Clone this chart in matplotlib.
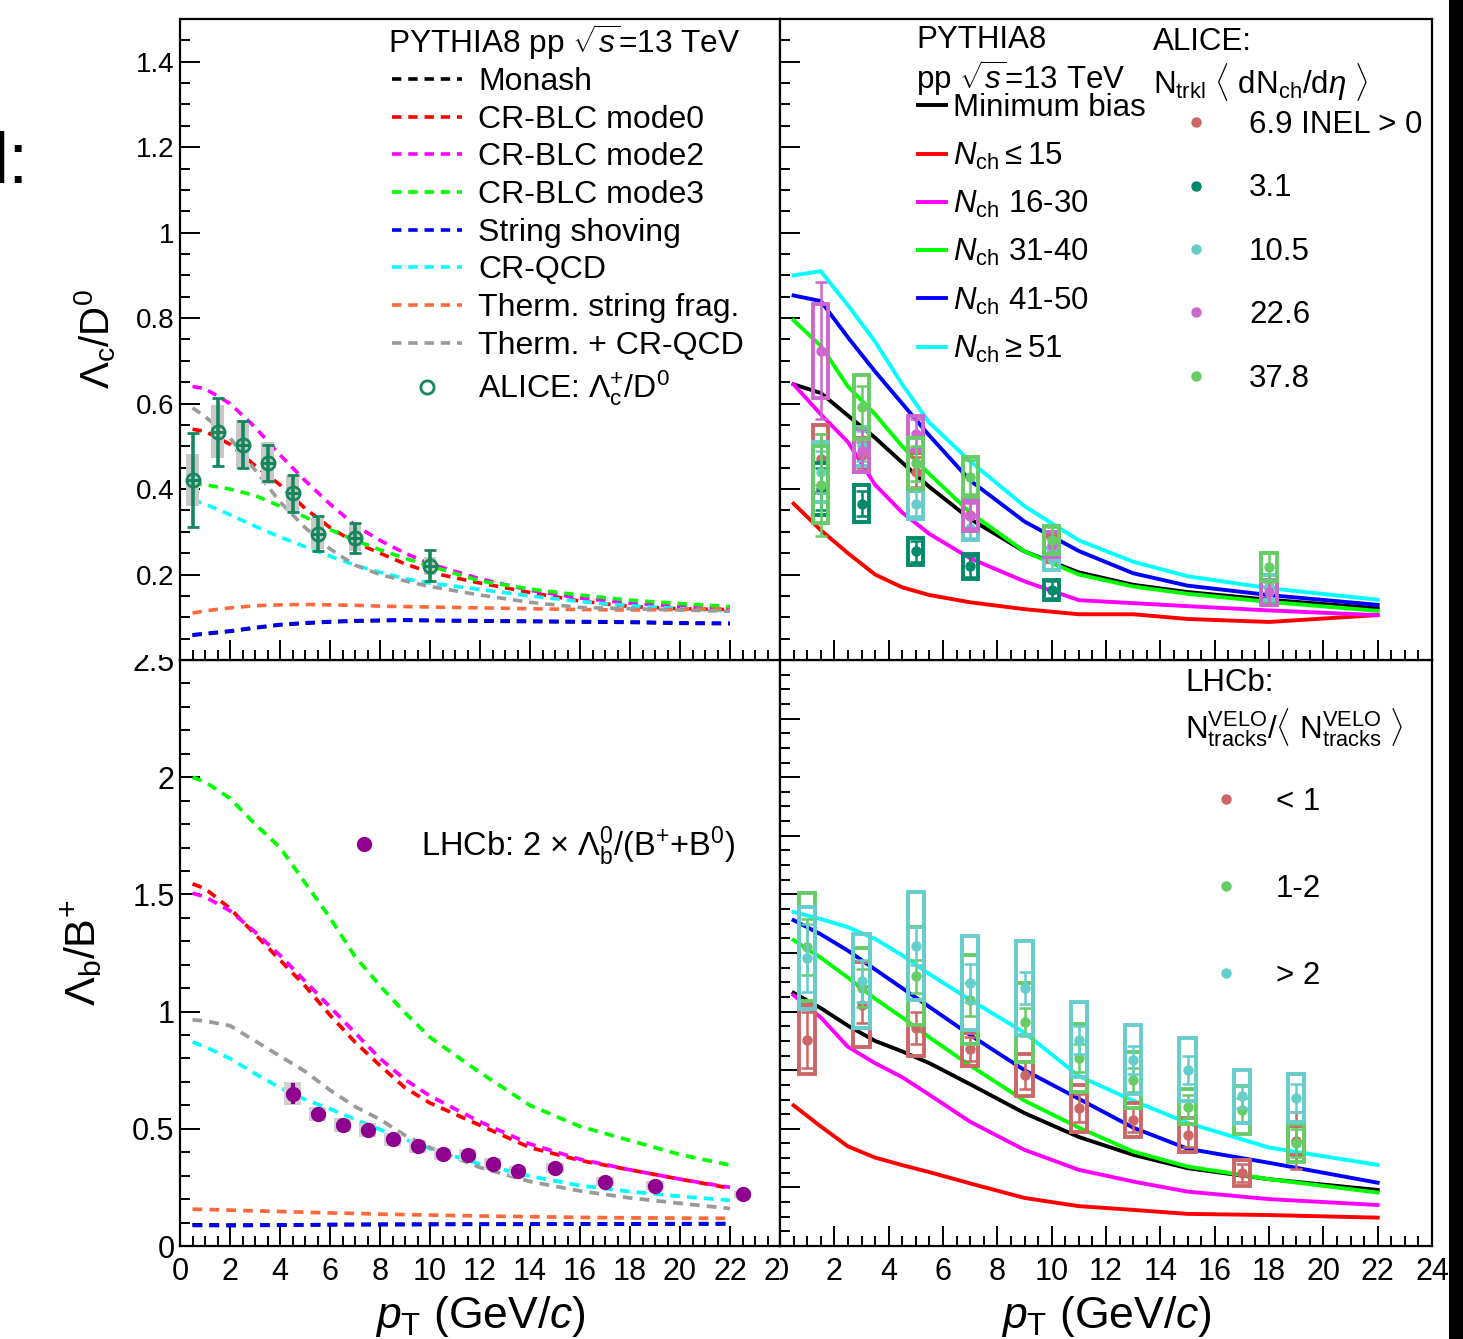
#!/usr/bin/env python3

"""
Lambda_c/D0 and Lambda_b/B+ versus pT: PYTHIA8 tunes compared with
ALICE and LHCb, inclusive (left column) and in multiplicity classes
(right column).
"""

import numpy as np
import matplotlib
matplotlib.use('Agg')
from matplotlib import pyplot as plt
from matplotlib.patches import Rectangle
from matplotlib.ticker import MultipleLocator, FuncFormatter, NullFormatter
from matplotlib.transforms import Bbox, TransformedBbox

plt.rcParams['font.family'] = ['Liberation Sans', 'DejaVu Sans']
plt.rcParams['mathtext.fontset'] = 'custom'
plt.rcParams['mathtext.rm'] = 'Liberation Sans'
plt.rcParams['mathtext.it'] = 'Liberation Sans:italic'
plt.rcParams['mathtext.bf'] = 'Liberation Sans:bold'
plt.rcParams['axes.linewidth'] = 1.6

#### PYTHIA8 TUNES, INCLUSIVE (dashed) ####
pt_model = [0.5, 1, 2, 3, 4, 5, 6, 7, 8, 9, 10, 12, 14, 16, 18, 20, 22]

lc_monash = [0.058, 0.061, 0.067, 0.075, 0.082, 0.086, 0.089, 0.091, 0.092, 0.093, 0.092, 0.091, 0.090, 0.089, 0.088, 0.086, 0.085]
lc_mode0 = [0.54, 0.535, 0.505, 0.455, 0.41, 0.355, 0.31, 0.275, 0.25, 0.225, 0.205, 0.18, 0.158, 0.138, 0.125, 0.12, 0.118]
lc_mode2 = [0.64, 0.635, 0.60, 0.545, 0.48, 0.42, 0.365, 0.315, 0.28, 0.25, 0.225, 0.19, 0.163, 0.145, 0.133, 0.125, 0.12]
lc_mode3 = [0.413, 0.41, 0.40, 0.385, 0.36, 0.335, 0.305, 0.28, 0.258, 0.238, 0.22, 0.185, 0.166, 0.152, 0.14, 0.132, 0.125]
lc_shoving = [0.059, 0.062, 0.068, 0.076, 0.083, 0.087, 0.09, 0.092, 0.093, 0.094, 0.093, 0.092, 0.091, 0.09, 0.089, 0.087, 0.086]
lc_crqcd = [0.375, 0.365, 0.34, 0.313, 0.288, 0.265, 0.243, 0.222, 0.205, 0.19, 0.18, 0.165, 0.15, 0.137, 0.127, 0.12, 0.115]
lc_therm = [0.110, 0.115, 0.122, 0.127, 0.129, 0.130, 0.129, 0.128, 0.126, 0.125, 0.124, 0.122, 0.12, 0.118, 0.117, 0.118, 0.12]
lc_therm_crqcd = [0.59, 0.57, 0.52, 0.445, 0.37, 0.31, 0.26, 0.222, 0.2, 0.185, 0.172, 0.152, 0.135, 0.123, 0.12, 0.117, 0.114]

lb_monash = [0.09, 0.09, 0.089, 0.089, 0.09, 0.09, 0.091, 0.092, 0.092, 0.092, 0.093, 0.093, 0.093, 0.094, 0.094, 0.094, 0.095]
lb_mode0 = [1.545, 1.525, 1.44, 1.33, 1.22, 1.11, 0.985, 0.87, 0.77, 0.675, 0.61, 0.515, 0.42, 0.365, 0.325, 0.285, 0.247]
lb_mode2 = [1.505, 1.49, 1.43, 1.34, 1.24, 1.13, 1.02, 0.91, 0.8, 0.71, 0.64, 0.53, 0.435, 0.37, 0.325, 0.285, 0.25]
lb_mode3 = [2.0, 1.98, 1.91, 1.80, 1.70, 1.55, 1.40, 1.235, 1.11, 0.995, 0.89, 0.74, 0.60, 0.51, 0.45, 0.39, 0.345]
lb_shoving = [0.088, 0.088, 0.087, 0.088, 0.089, 0.09, 0.091, 0.091, 0.092, 0.092, 0.092, 0.093, 0.093, 0.094, 0.094, 0.095, 0.095]
lb_crqcd = [0.87, 0.85, 0.80, 0.735, 0.675, 0.625, 0.585, 0.54, 0.497, 0.455, 0.415, 0.35, 0.298, 0.258, 0.232, 0.212, 0.195]
lb_therm = [0.157, 0.156, 0.153, 0.15, 0.147, 0.144, 0.141, 0.139, 0.136, 0.134, 0.132, 0.128, 0.125, 0.122, 0.12, 0.119, 0.118]
lb_therm_crqcd = [0.965, 0.96, 0.94, 0.875, 0.81, 0.745, 0.665, 0.595, 0.54, 0.472, 0.42, 0.335, 0.275, 0.235, 0.205, 0.182, 0.16]

tune_names = ['Monash', 'CR-BLC mode0', 'CR-BLC mode2', 'CR-BLC mode3', 'String shoving',
              'CR-QCD', 'Therm. string frag.', 'Therm. + CR-QCD']
tune_colors = ['black', '#ff0000', '#ff00ff', '#00ff00', '#0000ff', '#00ffff', '#ff6a3d', '#9a9a9a']

#### PYTHIA8 IN MULTIPLICITY CLASSES (solid) ####
pt_mult = [0.5, 1.5, 2.5, 3.5, 4.5, 5.5, 7, 9, 11, 13, 15, 18, 22]

lc_mb = [0.645, 0.625, 0.572, 0.52, 0.462, 0.405, 0.33, 0.254, 0.205, 0.176, 0.159, 0.141, 0.121]
lc_n15 = [0.366, 0.304, 0.25, 0.20, 0.17, 0.152, 0.135, 0.119, 0.107, 0.107, 0.096, 0.089, 0.105]
lc_n30 = [0.645, 0.575, 0.51, 0.41, 0.345, 0.295, 0.238, 0.184, 0.14, 0.133, 0.126, 0.116, 0.105]
lc_n40 = [0.795, 0.735, 0.64, 0.575, 0.5, 0.435, 0.345, 0.254, 0.2, 0.172, 0.155, 0.136, 0.115]
lc_n50 = [0.853, 0.84, 0.755, 0.675, 0.6, 0.525, 0.42, 0.324, 0.255, 0.203, 0.174, 0.152, 0.129]
lc_n51 = [0.90, 0.91, 0.83, 0.745, 0.645, 0.555, 0.465, 0.36, 0.28, 0.23, 0.196, 0.168, 0.141]

lb_mb = [1.08, 1.015, 0.94, 0.875, 0.83, 0.78, 0.69, 0.567, 0.465, 0.389, 0.332, 0.285, 0.239]
lb_n15 = [0.60, 0.51, 0.425, 0.377, 0.345, 0.315, 0.267, 0.205, 0.17, 0.154, 0.137, 0.132, 0.121]
lb_n30 = [1.07, 0.975, 0.85, 0.78, 0.72, 0.645, 0.53, 0.41, 0.325, 0.275, 0.232, 0.2, 0.175]
lb_n40 = [1.305, 1.23, 1.145, 1.055, 0.975, 0.89, 0.77, 0.62, 0.505, 0.403, 0.339, 0.285, 0.228]
lb_n50 = [1.39, 1.33, 1.26, 1.18, 1.10, 1.02, 0.90, 0.75, 0.628, 0.505, 0.415, 0.355, 0.27]
lb_n51 = [1.425, 1.395, 1.36, 1.31, 1.24, 1.16, 1.05, 0.91, 0.725, 0.62, 0.525, 0.42, 0.346]

mult_names = ['Minimum bias', r'$N_{\rm ch}\leq15$', r'$N_{\rm ch}$ 16-30', r'$N_{\rm ch}$ 31-40',
              r'$N_{\rm ch}$ 41-50', r'$N_{\rm ch}\geq51$']
mult_colors = ['black', '#ff0000', '#ff00ff', '#00ff00', '#0000ff', '#00ffff']

#### ALICE Lc/D0, INCLUSIVE ####
alice_pt = [0.5, 1.5, 2.5, 3.5, 4.5, 5.5, 7, 10]
alice_lc = [0.421, 0.534, 0.504, 0.460, 0.390, 0.296, 0.285, 0.221]
alice_stat = [0.11, 0.08, 0.055, 0.042, 0.044, 0.04, 0.035, 0.037]
alice_syst = [0.06, 0.062, 0.058, 0.049, 0.041, 0.037, 0.031, 0.021]

#### ALICE Lc/D0 IN <dNch/deta> CLASSES ####
alice_mult_pt = [1.5, 3, 5, 7, 10, 18]
alice_mult_labels = ['6.9 INEL > 0', '3.1', '10.5', '22.6', '37.8']
alice_mult_colors = ['#cd6666', '#00896a', '#66cdcd', '#cd66cd', '#66cd66']
alice_inel = [0.47, 0.48, 0.44, 0.34, 0.26, 0.17]
alice_inel_stat = [0.06, 0.03, 0.035, 0.03, 0.025, 0.03]
alice_inel_syst = [0.08, 0.04, 0.045, 0.035, 0.03, 0.03]
alice_m31 = [0.40, 0.366, 0.254, 0.219, 0.164]
alice_m31_stat = [0.05, 0.03, 0.025, 0.025, 0.02]
alice_m31_syst = [0.06, 0.043, 0.032, 0.03, 0.023]
alice_m105 = [0.44, 0.50, 0.366, 0.31, 0.236, 0.17]
alice_m105_stat = [0.05, 0.035, 0.03, 0.025, 0.022, 0.03]
alice_m105_syst = [0.07, 0.045, 0.035, 0.03, 0.025, 0.03]
alice_m226 = [0.724, 0.49, 0.53, 0.338, 0.27, 0.158]
alice_m226_stat = [0.16, 0.05, 0.035, 0.03, 0.03, 0.03]
alice_m226_syst = [0.11, 0.05, 0.04, 0.035, 0.03, 0.03]
alice_m378 = [0.41, 0.592, 0.46, 0.429, 0.281, 0.218]
alice_m378_stat = [0.12, 0.05, 0.04, 0.04, 0.03, 0.035]
alice_m378_syst = [0.09, 0.076, 0.06, 0.047, 0.033, 0.032]

#### LHCb Lb/B, INCLUSIVE ####
lhcb_pt = [4.5, 5.5, 6.5, 7.5, 8.5, 9.5, 10.5, 11.5, 12.5, 13.5, 15, 17, 19, 22.5]
lhcb_lb = [0.65, 0.565, 0.515, 0.495, 0.455, 0.425, 0.393, 0.388, 0.35, 0.32, 0.333, 0.275, 0.257, 0.22]
lhcb_stat = [0.045, 0.03, 0.03, 0.03, 0.028, 0.027, 0.025, 0.027, 0.027, 0.025, 0.027, 0.025, 0.025, 0.02]
lhcb_syst = [0.05, 0.03, 0.03, 0.03, 0.028, 0.027, 0.025, 0.025, 0.025, 0.022, 0.02, 0.02, 0.02, 0.015]

#### LHCb Lb/B IN VELO TRACK CLASSES ####
lhcb_mult_pt = [1, 3, 5, 7, 9, 11, 13, 15, 17, 19]
lhcb_mult_labels = ['< 1', '1-2', '> 2']
lhcb_mult_colors = ['#cd6666', '#66cd66', '#66cdcd']
lhcb_low = [0.88, 1.03, 0.93, 0.84, 0.731, 0.588, 0.538, 0.474, 0.311, 0.45]
lhcb_low_stat = [0.12, 0.08, 0.07, 0.05, 0.06, 0.06, 0.05, 0.05, 0.04, 0.12]
lhcb_low_syst = [0.147, 0.18, 0.12, 0.07, 0.09, 0.1, 0.073, 0.071, 0.057, 0.06]
lhcb_mid = [1.276, 1.10, 1.151, 1.051, 0.954, 0.802, 0.709, 0.595, 0.581, 0.439]
lhcb_mid_stat = [0.12, 0.08, 0.07, 0.07, 0.06, 0.06, 0.05, 0.05, 0.05, 0.06]
lhcb_mid_syst = [0.23, 0.17, 0.21, 0.19, 0.17, 0.145, 0.12, 0.075, 0.103, 0.08]
lhcb_high = [1.229, 1.13, 1.279, 1.123, 1.101, 0.88, 0.795, 0.752, 0.638, 0.631]
lhcb_high_stat = [0.145, 0.09, 0.08, 0.08, 0.07, 0.06, 0.06, 0.06, 0.05, 0.06]
lhcb_high_syst = [0.217, 0.2, 0.23, 0.2, 0.2, 0.16, 0.146, 0.135, 0.114, 0.103]

W, H = 1463, 1339
fig = plt.figure(figsize=(W / 100, H / 100), dpi=100)

# pads in pixel units: left column 180-780, right column 780-1432
ax_bl = fig.add_axes([180 / W, (H - 1246) / H, 600 / W, 586 / H])
ax_br = fig.add_axes([780 / W, (H - 1246) / H, 652 / W, 586 / H])
ax_tl = fig.add_axes([180 / W, (H - 660) / H, 600 / W, 641 / H])
ax_tr = fig.add_axes([780 / W, (H - 660) / H, 652 / W, 641 / H])
for ax in (ax_tl, ax_tr):
    ax.set_zorder(3)

fmt_nozero = FuncFormatter(lambda v, p: '' if abs(v) < 1e-9 else '%g' % v)
fmt_g = FuncFormatter(lambda v, p: '%g' % round(v, 6))
for ax in (ax_tl, ax_tr, ax_bl, ax_br):
    ax.set_xlim(0, 24)
    ax.xaxis.set_major_locator(MultipleLocator(2))
    ax.xaxis.set_minor_locator(MultipleLocator(0.5))
    ax.tick_params(which='both', direction='in', top=False, right=False, width=1.4)
    ax.tick_params(which='major', length=14.5)
    ax.tick_params(which='minor', length=7.5)
for ax in (ax_tl, ax_tr):
    ax.set_ylim(0, 1.5)
    ax.yaxis.set_major_locator(MultipleLocator(0.2))
    ax.yaxis.set_minor_locator(MultipleLocator(0.05))
    ax.xaxis.set_major_formatter(NullFormatter())
for ax in (ax_bl, ax_br):
    ax.set_ylim(0, 2.5)
    ax.xaxis.set_major_formatter(fmt_g)
ax_bl.yaxis.set_major_locator(MultipleLocator(0.5))
ax_bl.yaxis.set_minor_locator(MultipleLocator(0.1))
ax_bl.yaxis.set_major_formatter(fmt_g)
ax_br.yaxis.set_major_locator(MultipleLocator(0.25))
ax_br.yaxis.set_minor_locator(MultipleLocator(0.0625))
ax_tr.yaxis.set_major_formatter(NullFormatter())
ax_br.yaxis.set_major_formatter(NullFormatter())
ax_tl.yaxis.set_major_formatter(fmt_nozero)
ax_tl.tick_params(axis='y', labelsize=20, pad=4)
ax_bl.tick_params(axis='y', labelsize=22, pad=4)
for ax in (ax_bl, ax_br):
    ax.tick_params(axis='x', labelsize=22, pad=8)

dash = (2.6, 1.9)

#### TOP LEFT: Lc/D0 ####
lc_tunes = [lc_monash, lc_mode0, lc_mode2, lc_mode3, lc_shoving, lc_crqcd, lc_therm, lc_therm_crqcd]
tune_lines = []
for vals, c in zip(lc_tunes, tune_colors):
    ln, = ax_tl.plot(pt_model, vals, color=c, lw=2.6, dashes=dash, zorder=2)
    tune_lines.append(ln)

alice_green = '#14875c'
ax_tl.bar(alice_pt, 2 * np.array(alice_syst), bottom=np.array(alice_lc) - np.array(alice_syst),
          width=0.5, color='#c8c8c8', zorder=3)
ax_tl.errorbar(alice_pt, alice_lc, xerr=0.27, fmt='none', ecolor=alice_green,
               elinewidth=2.2, capsize=0, zorder=4)
alice_eb = ax_tl.errorbar(alice_pt, alice_lc, yerr=alice_stat, fmt='o', mfc='none',
                          mec=alice_green, mew=2, ms=9.5, ecolor=alice_green,
                          elinewidth=2.6, capsize=4.5, capthick=2.2, zorder=5)

ax_tl.text(0.3467, 0.964, r'PYTHIA8 pp $\sqrt{s}$=13 TeV', transform=ax_tl.transAxes,
           fontsize=22.8, ha='left', va='center')
ax_tl.legend(tune_lines + [alice_eb[0]], tune_names + [r'ALICE: $\Lambda_{\rm c}^{+}/{\rm D}^{0}$'],
             loc='upper left', bbox_to_anchor=(0.353, 0.925), frameon=False, fontsize=23,
             handlelength=2.2, handletextpad=0.5, labelspacing=0.24,
             borderpad=0, borderaxespad=0)
ax_tl.set_ylabel(r'$\Lambda_{\rm c}/{\rm D}^{0}$', fontsize=29, va='center')
ax_tl.yaxis.set_label_coords(-0.142, 0.5)

#### TOP RIGHT: Lc/D0 vs multiplicity ####
lc_mult = [lc_mb, lc_n15, lc_n30, lc_n40, lc_n50, lc_n51]
mult_lines = []
for vals, c in zip(lc_mult, mult_colors):
    ln, = ax_tr.plot(pt_mult, vals, color=c, lw=2.8, zorder=2)
    mult_lines.append(ln)

alice_sets = [
    (alice_inel, alice_inel_stat, alice_inel_syst),
    (alice_m31, alice_m31_stat, alice_m31_syst),
    (alice_m105, alice_m105_stat, alice_m105_syst),
    (alice_m226, alice_m226_stat, alice_m226_syst),
    (alice_m378, alice_m378_stat, alice_m378_syst),
]
alice_handles = []
for k, ((vals, stat, syst), c) in enumerate(zip(alice_sets, alice_mult_colors)):
    pts = alice_mult_pt[:len(vals)]
    ax_tr.bar(pts, 2 * np.array(syst), bottom=np.array(vals) - np.array(syst), width=0.56,
              fill=False, edgecolor=c, linewidth=2.8, zorder=3 + k)
    eb = ax_tr.errorbar(pts, vals, yerr=stat, fmt='o', color=c, ms=6.5, elinewidth=1.8,
                        capsize=4, capthick=1.8, zorder=3 + k)
    alice_handles.append(eb[0])

ax_tr.text(0.2086, 0.967, 'PYTHIA8', transform=ax_tr.transAxes, fontsize=22.5, va='center')
ax_tr.text(0.2086, 0.908, r'pp $\sqrt{s}$=13 TeV', transform=ax_tr.transAxes, fontsize=22.5, va='center')
ax_tr.text(0.572, 0.964, 'ALICE:', transform=ax_tr.transAxes, fontsize=22.5, va='center')
ax_tr.text(0.572, 0.902, r'N$_{\rm trkl}$ $\langle$ dN$_{\rm ch}$/d$\eta$ $\rangle$',
           transform=ax_tr.transAxes, fontsize=22.5, va='center')
leg_mult = ax_tr.legend(mult_lines, mult_names, loc='upper left', bbox_to_anchor=(0.2117, 0.884),
                        frameon=False, fontsize=22.5, handlelength=0.9, handletextpad=0.22,
                        labelspacing=0.55, borderpad=0, borderaxespad=0)
ax_tr.add_artist(leg_mult)
ax_tr.legend(alice_handles, alice_mult_labels, loc='upper left', bbox_to_anchor=(0.614, 0.858),
             frameon=False, fontsize=22.5, handlelength=1.0, handletextpad=1.2,
             labelspacing=1.07, borderpad=0, borderaxespad=0)

#### BOTTOM LEFT: Lb/B+ ####
lb_tunes = [lb_monash, lb_mode0, lb_mode2, lb_mode3, lb_shoving, lb_crqcd, lb_therm, lb_therm_crqcd]
for vals, c in zip(lb_tunes, tune_colors):
    ax_bl.plot(pt_model, vals, color=c, lw=2.7, dashes=dash, zorder=2)

lhcb_purple = '#900090'
ax_bl.bar(lhcb_pt, 2 * np.array(lhcb_syst), bottom=np.array(lhcb_lb) - np.array(lhcb_syst),
          width=0.7, color='#d0d0d0', zorder=3)
ax_bl.errorbar(lhcb_pt, lhcb_lb, xerr=0.28, fmt='none', ecolor=lhcb_purple,
               elinewidth=3, capsize=0, zorder=4)
lhcb_eb = ax_bl.errorbar(lhcb_pt, lhcb_lb, yerr=lhcb_stat, fmt='o', color=lhcb_purple,
                         ms=10, elinewidth=3, capsize=0, zorder=5)
ax_bl.legend([lhcb_eb[0]], [r'LHCb: 2 $\times$ $\Lambda_{\rm b}^{0}$/(B$^{+}$+B$^{0}$)'],
             loc='upper left', bbox_to_anchor=(0.28, 0.72), frameon=False, fontsize=23.5,
             handlelength=0.95, handletextpad=1.3, borderpad=0, borderaxespad=0)
ax_bl.set_ylabel(r'$\Lambda_{\rm b}/{\rm B}^{+}$', fontsize=31, va='center')
ax_bl.yaxis.set_label_coords(-0.163, 0.5)
ax_bl.set_xlabel(r'$p_{\rm T}$ (GeV/$c$)', fontsize=32)
ax_bl.xaxis.set_label_coords(0.5, -0.082)

#### BOTTOM RIGHT: Lb/B+ vs multiplicity ####
lb_mult = [lb_mb, lb_n15, lb_n30, lb_n40, lb_n50, lb_n51]
for vals, c in zip(lb_mult, mult_colors):
    ax_br.plot(pt_mult, vals, color=c, lw=2.8, zorder=2)

lhcb_sets = [
    (lhcb_low, lhcb_low_stat, lhcb_low_syst),
    (lhcb_mid, lhcb_mid_stat, lhcb_mid_syst),
    (lhcb_high, lhcb_high_stat, lhcb_high_syst),
]
lhcb_handles = []
for k, ((vals, stat, syst), c) in enumerate(zip(lhcb_sets, lhcb_mult_colors)):
    ax_br.bar(lhcb_mult_pt, 2 * np.array(syst), bottom=np.array(vals) - np.array(syst),
              width=0.6, fill=False, edgecolor=c, linewidth=2.8, zorder=3 + k)
    eb = ax_br.errorbar(lhcb_mult_pt, vals, yerr=stat, fmt='o', color=c, ms=6.5,
                        elinewidth=1.8, capsize=4, capthick=1.8, zorder=3 + k)
    lhcb_handles.append(eb[0])

ax_br.text(0.621, 0.961, 'LHCb:', transform=ax_br.transAxes, fontsize=22.5, va='center')
ax_br.text(0.621, 0.884, r'N$^{\rm VELO}_{\rm tracks}$/$\langle$ N$^{\rm VELO}_{\rm tracks}$ $\rangle$',
           transform=ax_br.transAxes, fontsize=22.5, va='center')
ax_br.legend(lhcb_handles, lhcb_mult_labels, loc='upper left', bbox_to_anchor=(0.6595, 0.783),
             frameon=False, fontsize=22.5, handlelength=1.0, handletextpad=1.1,
             labelspacing=1.82, borderpad=0, borderaxespad=0)
ax_br.set_xlabel(r'$p_{\rm T}$ (GeV/$c$)', fontsize=32)
ax_br.xaxis.set_label_coords(0.5, -0.082)

# labels that run past the pad edges are cut at the pad boundary
left_pad = TransformedBbox(Bbox.from_extents(0, 0, 780 / W, 1), fig.transFigure)
right_pad = TransformedBbox(Bbox.from_extents(780 / W, 0, 1, 1), fig.transFigure)
lower_pad = TransformedBbox(Bbox.from_extents(0, 0, 1, (H - 655) / H), fig.transFigure)
for lab in ax_bl.get_xticklabels():
    lab.set_clip_box(left_pad)
    lab.set_clip_on(True)
for lab in ax_br.get_xticklabels():
    lab.set_clip_box(right_pad)
    lab.set_clip_on(True)
for lab in ax_bl.get_yticklabels():
    lab.set_clip_box(lower_pad)
    lab.set_clip_on(True)

fig.text(28 / W, 1 - 183 / H, 'l:', fontsize=52, ha='right', va='baseline')
fig.patches.append(Rectangle((1449 / W, 0), 14 / W, 1, transform=fig.transFigure,
                             facecolor='black', edgecolor='none'))

fig.savefig('out.png', dpi=100)
